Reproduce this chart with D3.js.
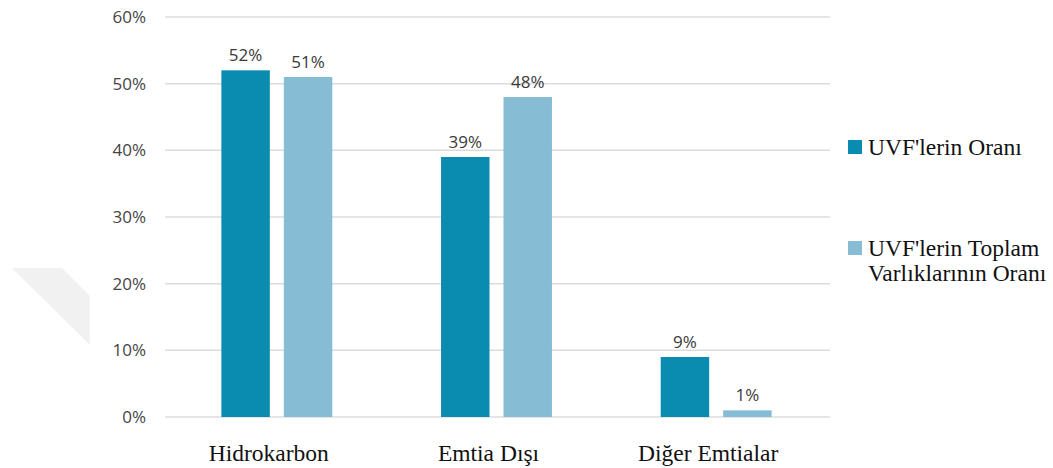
<!DOCTYPE html>
<html>
<head>
<meta charset="utf-8">
<script src="https://cdn.jsdelivr.net/npm/d3@7"></script>
<style>
  html, body { margin: 0; padding: 0; background: #fff; }
  svg { display: block; }
</style>
</head>
<body>
<svg id="chart" width="1053" height="468"></svg>
<script>
// Chart data
const categories = ["Hidrokarbon", "Emtia Dışı", "Diğer Emtialar"];
const seriesNames = ["UVF'lerin Oranı", "UVF'lerin Toplam Varlıklarının Oranı"];
const shareOfFunds = [52, 39, 9];
const shareOfAssets = [51, 48, 1];
const yTicks = [0, 10, 20, 30, 40, 50, 60];

const colors = ["#0a8cb0", "#86bcd4"];
const series = [shareOfFunds, shareOfAssets];

const svg = d3.select("#chart");

// faint decorative shape at the left edge
svg.append("polygon")
  .attr("points", "12,268 62,268 90,296 90,345")
  .attr("fill", "#f1f1f1");

const plot = { left: 167, right: 826, top: 17, bottom: 417 };

const x0 = d3.scaleBand()
  .domain(categories)
  .range([plot.left, plot.right])
  .paddingInner(0.495)
  .paddingOuter(0.2475);

const x1 = d3.scaleBand()
  .domain([0, 1])
  .range([0, x0.bandwidth()])
  .paddingInner(0.224);

const y = d3.scaleLinear()
  .domain([0, 60])
  .range([plot.bottom, plot.top]);

// gridlines
svg.append("g")
  .selectAll("line")
  .data(yTicks)
  .join("line")
  .attr("x1", plot.left - 2)
  .attr("x2", plot.right + 4)
  .attr("y1", d => y(d))
  .attr("y2", d => y(d))
  .attr("stroke", "#dcdcdc")
  .attr("stroke-width", 1.5);

// y axis labels
const yAxis = d3.axisLeft(y)
  .tickValues(yTicks)
  .tickFormat(d => d + "%")
  .tickSize(0)
  .tickPadding(0);

svg.append("g")
  .attr("transform", `translate(${plot.left - 21},0)`)
  .call(yAxis)
  .call(g => g.select(".domain").remove())
  .selectAll("text")
  .attr("font-family", "'Open Sans', sans-serif")
  .attr("font-size", 17)
  .attr("fill", "#454545");

// bars
const groups = svg.append("g")
  .selectAll("g")
  .data(categories)
  .join("g")
  .attr("transform", d => `translate(${x0(d)},0)`);

groups.selectAll("rect")
  .data((d, i) => series.map((s, k) => ({ k, v: s[i] })))
  .join("rect")
  .attr("x", d => x1(d.k))
  .attr("width", x1.bandwidth())
  .attr("y", d => y(d.v))
  .attr("height", d => y(0) - y(d.v))
  .attr("fill", d => colors[d.k]);

groups.selectAll("text")
  .data((d, i) => series.map((s, k) => ({ k, v: s[i] })))
  .join("text")
  .attr("x", d => x1(d.k) + x1.bandwidth() / 2)
  .attr("y", d => y(d.v) - 9)
  .attr("text-anchor", "middle")
  .attr("font-family", "'Open Sans', sans-serif")
  .attr("font-size", 17)
  .attr("fill", "#3a3a3a")
  .text(d => d.v + "%");

// category labels
const xAxis = d3.axisBottom(x0).tickSize(0).tickPadding(0);
svg.append("g")
  .attr("transform", `translate(-8,${plot.bottom + 27})`)
  .call(xAxis)
  .call(g => g.select(".domain").remove())
  .selectAll("text")
  .attr("font-family", "'Liberation Serif', 'Times New Roman', serif")
  .attr("font-size", 23.5)
  .attr("fill", "#111");

// legend
const legend = svg.append("g").attr("transform", "translate(848,0)");
const legendItems = [
  { k: 0, lines: [seriesNames[0]], y: 155 },
  { k: 1, lines: ["UVF'lerin Toplam", "Varlıklarının Oranı"], y: 256 }
];
legendItems.forEach(item => {
  legend.append("rect")
    .attr("x", 0)
    .attr("y", item.y - 15)
    .attr("width", 14)
    .attr("height", 14)
    .attr("fill", colors[item.k]);
  const t = legend.append("text")
    .attr("x", 20)
    .attr("y", item.y)
    .attr("font-family", "'Liberation Serif', 'Times New Roman', serif")
    .attr("font-size", 23.5)
    .attr("fill", "#111");
  item.lines.forEach((line, i) => {
    t.append("tspan")
      .attr("x", 20)
      .attr("dy", i === 0 ? 0 : 25)
      .text(line);
  });
});
</script>
</body>
</html>
